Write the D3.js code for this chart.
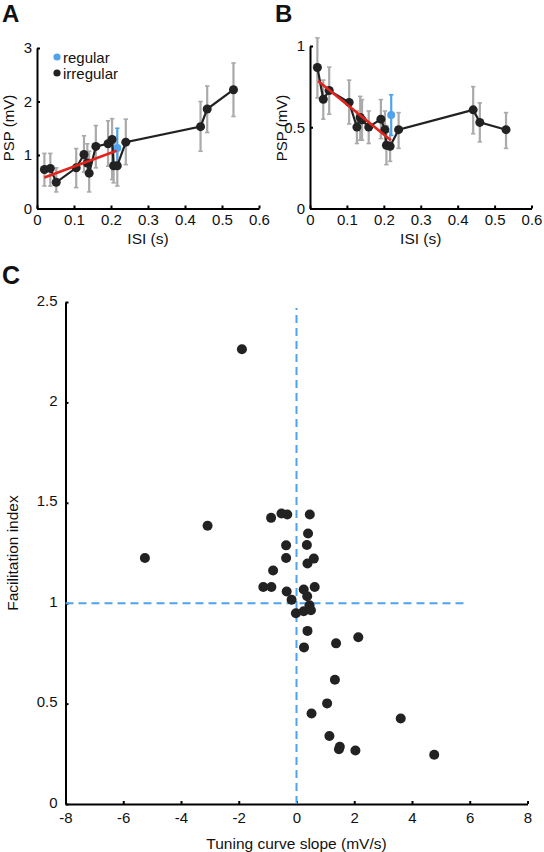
<!DOCTYPE html>
<html><head><meta charset="utf-8">
<script src="https://cdn.jsdelivr.net/npm/d3@7"></script>
<style>
html,body{margin:0;padding:0;background:#fff;}
text{font-family:"Liberation Sans",Arial,sans-serif;fill:#111;}
</style></head>
<body>
<svg id="chart" width="544" height="852"></svg>
<script>
// ---------- DATA ----------
const isi = [0.020, 0.036, 0.052, 0.106, 0.127, 0.136, 0.141, 0.159, 0.192, 0.203, 0.207, 0.217, 0.240, 0.442, 0.460, 0.531];
const pspA = [0.73, 0.75, 0.49, 0.76, 1.01, 0.85, 0.66, 1.16, 1.21, 1.29, 0.80, 0.80, 1.24, 1.53, 1.86, 2.22];
const errLoA = [0.42, 0.42, 0.31, 0.39, 0.68, 0.67, 0.31, 0.76, 0.79, 0.54, 0.48, 0.42, 0.82, 1.07, 1.42, 1.72];
const errHiA = [1.03, 1.03, 0.76, 1.12, 1.36, 1.21, 1.07, 1.55, 1.64, 1.68, 1.22, 1.16, 1.67, 2.00, 2.29, 2.72];
const regularA = {x: 0.217, y: 1.13, lo: 0.78, hi: 1.50};
const fitA = [[0.020, 0.58], [0.215, 1.08]];

const pspB = [0.868, 0.672, 0.726, 0.653, 0.501, 0.560, 0.545, 0.501, 0.550, 0.485, 0.389, 0.383, 0.485, 0.607, 0.530, 0.485];
const errLoB = [0.68, 0.55, 0.58, 0.52, 0.40, 0.42, 0.42, 0.40, 0.43, 0.38, 0.27, 0.29, 0.37, 0.46, 0.41, 0.37];
const errHiB = [1.05, 0.79, 0.87, 0.79, 0.60, 0.69, 0.67, 0.60, 0.67, 0.60, 0.51, 0.47, 0.59, 0.75, 0.65, 0.59];
const regularB = {x: 0.220, y: 0.575, lo: 0.45, hi: 0.70};
const fitB = [[0.022, 0.784], [0.219, 0.42]];

const isiTicks = [0, 0.1, 0.2, 0.3, 0.4, 0.5, 0.6];
const pspTicksA = [0, 1, 2, 3];
const pspTicksB = [0, 0.5, 1];

const slope = [-5.25, -3.08, -1.89, -1.15, -0.87, -0.88, -0.81, -0.52, -0.32, -0.36, -0.36, -0.34, -0.17, -0.02,
               0.25, 0.25, 0.37, 0.45, 0.50, 0.63, 0.38, 0.60, 0.36, 0.40, 0.46, 0.38, 0.26,
               1.37, 2.14, 1.33, 1.06, 0.52, 3.61, 1.14, 1.50, 1.47, 2.04, 4.77];
const facil = [1.225, 1.386, 2.265, 1.081, 1.081, 1.425, 1.163, 1.447, 1.442, 1.288, 1.225, 1.058, 1.017, 0.950,
               1.068, 0.960, 1.035, 0.990, 0.965, 1.081, 1.198, 1.222, 1.290, 1.347, 1.442, 0.862, 0.780,
               0.800, 0.830, 0.619, 0.501, 0.451, 0.426, 0.339, 0.285, 0.273, 0.266, 0.245];
const slopeTicks = [-8, -6, -4, -2, 0, 2, 4, 6, 8];
const facilTicks = [0, 0.5, 1, 1.5, 2, 2.5];
const refLineV = [[0, 0], [0, 2.47]];
const refLineH = [[-8, 1], [5.87, 1]];

// ---------- STYLE ----------
const BLUE = "#4ea3ec", RED = "#e3231c", GRAY = "#aaaaaa", DOT = "#222222";
const svg = d3.select("#chart");

function styleAxis(g, fs) {
  g.select(".domain").attr("stroke", "#000").attr("stroke-width", 2);
  g.selectAll(".tick line").attr("stroke", "#000").attr("stroke-width", 2);
  g.selectAll(".tick text").attr("font-size", fs).attr("fill", "#111")
    .attr("font-family", '"Liberation Sans",Arial,sans-serif');
}
const fmt = d => String(d);

function psPanel(opts) {
  const x = d3.scaleLinear().domain([0, 0.6]).range([opts.x0, opts.x1]);
  const y = d3.scaleLinear().domain([0, opts.ymax]).range([opts.y0, opts.y1]);
  const g = svg.append("g");

  const gx = g.append("g").attr("transform", `translate(0,${opts.y0})`)
    .call(d3.axisBottom(x).tickValues(isiTicks).tickFormat(fmt).tickSizeInner(-3).tickSizeOuter(0).tickPadding(6));
  styleAxis(gx, 15);
  const gy = g.append("g").attr("transform", `translate(${opts.x0},0)`)
    .call(d3.axisLeft(y).tickValues(opts.yticks).tickFormat(fmt).tickSizeInner(-3).tickSizeOuter(0).tickPadding(5));
  styleAxis(gy, 15);

  // error bars
  const eb = g.append("g");
  opts.vals.forEach((v, i) => {
    const cx = x(isi[i]);
    eb.append("line").attr("x1", cx).attr("x2", cx).attr("y1", y(opts.lo[i])).attr("y2", y(opts.hi[i]))
      .attr("stroke", GRAY).attr("stroke-width", 2.2);
    [opts.lo[i], opts.hi[i]].forEach(e => eb.append("line").attr("x1", cx - 2.2).attr("x2", cx + 2.2)
      .attr("y1", y(e)).attr("y2", y(e)).attr("stroke", GRAY).attr("stroke-width", 1.6));
  });
  // regular
  const r = opts.reg;
  g.append("line").attr("x1", x(r.x)).attr("x2", x(r.x)).attr("y1", y(r.lo)).attr("y2", y(r.hi))
    .attr("stroke", BLUE).attr("stroke-width", 2.2);
  [r.lo, r.hi].forEach(e => g.append("line").attr("x1", x(r.x) - 2.2).attr("x2", x(r.x) + 2.2)
    .attr("y1", y(e)).attr("y2", y(e)).attr("stroke", BLUE).attr("stroke-width", 1.6));
  g.append("circle").attr("cx", x(r.x)).attr("cy", y(r.y)).attr("r", 4).attr("fill", BLUE);

  // irregular line + points
  const line = d3.line().x((d, i) => x(isi[i])).y(d => y(d));
  g.append("path").datum(opts.vals).attr("d", line).attr("fill", "none").attr("stroke", DOT).attr("stroke-width", 2.2);
  g.selectAll("circle.irr").data(opts.vals).enter().append("circle").attr("class", "irr")
    .attr("cx", (d, i) => x(isi[i])).attr("cy", d => y(d)).attr("r", 4.5).attr("fill", DOT);

  // fit
  g.append("path").datum(opts.fit).attr("d", d3.line().x(d => x(d[0])).y(d => y(d[1])))
    .attr("stroke", RED).attr("stroke-width", 2.6).attr("fill", "none");

  // titles
  g.append("text").attr("x", (opts.x0 + opts.x1) / 2).attr("y", 244).attr("text-anchor", "middle")
    .attr("font-size", 15.5).text("ISI (s)");
  g.append("text").attr("transform", `translate(${opts.x0 - 23},128) rotate(-90)`).attr("text-anchor", "middle")
    .attr("font-size", 15).text("PSP (mV)");
  g.append("text").attr("x", opts.x0 - 35).attr("y", 22).attr("font-size", 24).attr("font-weight", "bold").text(opts.label);
  return {x, y, g};
}

const A = psPanel({x0: 37, x1: 259, y0: 208.5, y1: 48, ymax: 3, yticks: pspTicksA, vals: pspA, lo: errLoA, hi: errHiA, reg: regularA, fit: fitA, label: "A"});
const B = psPanel({x0: 310, x1: 531.5, y0: 208.5, y1: 46, ymax: 1, yticks: pspTicksB, vals: pspB, lo: errLoB, hi: errHiB, reg: regularB, fit: fitB, label: "B"});

// legend in A
const leg = svg.append("g");
[["regular", BLUE, 57], ["irregular", DOT, 73]].forEach(([t, c, yy]) => {
  leg.append("circle").attr("cx", 57).attr("cy", yy).attr("r", 3.6).attr("fill", c);
  leg.append("text").attr("x", 63).attr("y", yy + 5.5).attr("font-size", 15).text(t);
});

// ---------- PANEL C ----------
const xc = d3.scaleLinear().domain([-8, 8]).range([65.5, 527.5]);
const yc = d3.scaleLinear().domain([0, 2.5]).range([804, 302]);
const gc = svg.append("g");
const gcx = gc.append("g").attr("transform", "translate(0,804)")
  .call(d3.axisBottom(xc).tickValues(slopeTicks).tickFormat(fmt).tickSizeInner(-3).tickSizeOuter(0).tickPadding(8));
styleAxis(gcx, 15);
const gcy = gc.append("g").attr("transform", "translate(65.5,0)")
  .call(d3.axisLeft(yc).tickValues(facilTicks).tickFormat(fmt).tickSizeInner(-3).tickSizeOuter(0).tickPadding(8));
styleAxis(gcy, 15);
gcy.selectAll(".tick text").attr("dy", "0.2em");

const dl = d3.line().x(d => xc(d[0])).y(d => yc(d[1]));
[refLineV, refLineH].forEach(l => gc.append("path").datum(l).attr("d", dl).attr("stroke", BLUE)
  .attr("stroke-width", 2).attr("stroke-dasharray", "8,5").attr("fill", "none"));

gc.selectAll("circle.pt").data(slope).enter().append("circle").attr("class", "pt")
  .attr("cx", d => xc(d)).attr("cy", (d, i) => yc(facil[i])).attr("r", 5).attr("fill", DOT);

gc.append("text").attr("x", 296.5).attr("y", 849).attr("text-anchor", "middle").attr("font-size", 15.5)
  .text("Tuning curve slope (mV/s)");
gc.append("text").attr("transform", "translate(18,553) rotate(-90)").attr("text-anchor", "middle")
  .attr("font-size", 15.5).text("Facilitation index");
gc.append("text").attr("x", 2).attr("y", 284).attr("font-size", 25).attr("font-weight", "bold").text("C");
</script>
</body></html>
